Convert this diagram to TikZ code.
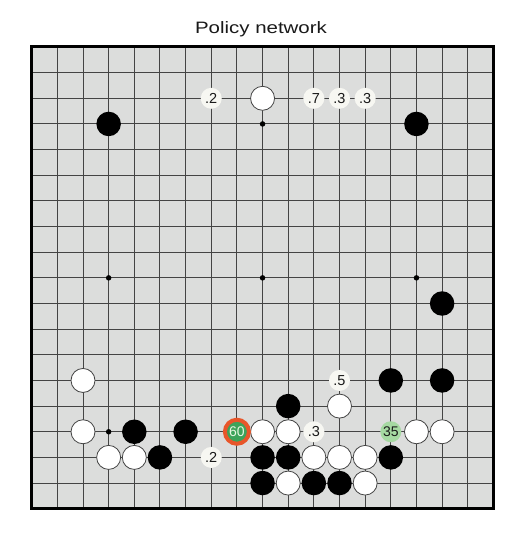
\documentclass[tikz,border=0pt]{standalone}
\usepackage{fontspec}
\setmainfont{Liberation Sans}
\definecolor{boardfill}{HTML}{DCDDDC}
\definecolor{gridcol}{HTML}{444444}
\definecolor{labelfill}{HTML}{F7F7F2}
\definecolor{pickfill}{HTML}{3DA35A}
\definecolor{pickring}{HTML}{E8562A}
\definecolor{pickalt}{HTML}{A6D9A2}
\definecolor{picktext}{HTML}{E8F6E2}
\tikzset{
  blackstone/.style={circle, fill=black, inner sep=0pt, minimum size=24.5pt},
  whitestone/.style={circle, fill=white, draw=gridcol, line width=0.8pt, inner sep=0pt, minimum size=24pt},
  starpt/.style={circle, fill=black, inner sep=0pt, minimum size=5.5pt},
  prob/.style={circle, fill=labelfill, inner sep=0pt, minimum size=21pt,
    font=\fontsize{14.5}{14.5}\selectfont, text=black!90},
  pickmain/.style={circle, fill=pickfill, draw=pickring, line width=4pt, inner sep=0pt,
    minimum size=24pt, font=\fontsize{14}{14}\selectfont, text=picktext},
  pickother/.style={circle, fill=pickalt, inner sep=0pt, minimum size=21pt,
    font=\fontsize{14}{14}\selectfont, text=black!90},
  titletext/.style={font=\fontsize{16.5}{16.5}\selectfont, text=black!90, inner sep=0pt}
}
\begin{document}
\begin{tikzpicture}[x=1pt,y=-1pt]
\useasboundingbox[fill=white] (0,0) rectangle (515,548);
\node[titletext, anchor=base] (title) at (261,34) {\scalebox{1.24}[1]{Policy network}};
\begin{scope}[shift={(31.7,47)}, x=25.65pt, y=-25.65pt]
  \fill[boardfill] (0,0) rectangle (18,18);
  \foreach \k in {1,...,17} {
    \draw[gridcol, line width=1pt] (\k,0) -- (\k,18);
    \draw[gridcol, line width=1pt] (0,\k) -- (18,\k);
  }
  \draw[black, line width=3pt] (0,0) rectangle (18,18);
  % star points
  \foreach \c/\r in {9/3, 3/9, 9/9, 15/9, 3/15}
    \node[starpt] (s\c-\r) at (\c,\r) {};
  % black stones
  \foreach \c/\r in {3/3, 15/3, 16/10, 14/13, 16/13, 10/14, 4/15, 6/15, 5/16, 9/16, 10/16, 14/16, 9/17, 11/17, 12/17}
    \node[blackstone] (b\c-\r) at (\c,\r) {};
  % white stones
  \foreach \c/\r in {9/2, 2/13, 12/14, 2/15, 9/15, 10/15, 15/15, 16/15, 3/16, 4/16, 11/16, 12/16, 13/16, 10/17, 13/17}
    \node[whitestone] (w\c-\r) at (\c,\r) {};
  % move probabilities
  \node[prob] (p7-2) at (7,2) {.2};
  \node[prob] (p11-2) at (11,2) {.7};
  \node[prob] (p12-2) at (12,2) {.3};
  \node[prob] (p13-2) at (13,2) {.3};
  \node[prob] (p12-13) at (12,13) {.5};
  \node[prob] (p11-15) at (11,15) {.3};
  \node[prob] (p7-16) at (7,16) {.2};
  \node[pickmain] (p8-15) at (8,15) {60};
  \node[pickother] (p14-15) at (14,15) {35};
\end{scope}
\end{tikzpicture}
\end{document}
